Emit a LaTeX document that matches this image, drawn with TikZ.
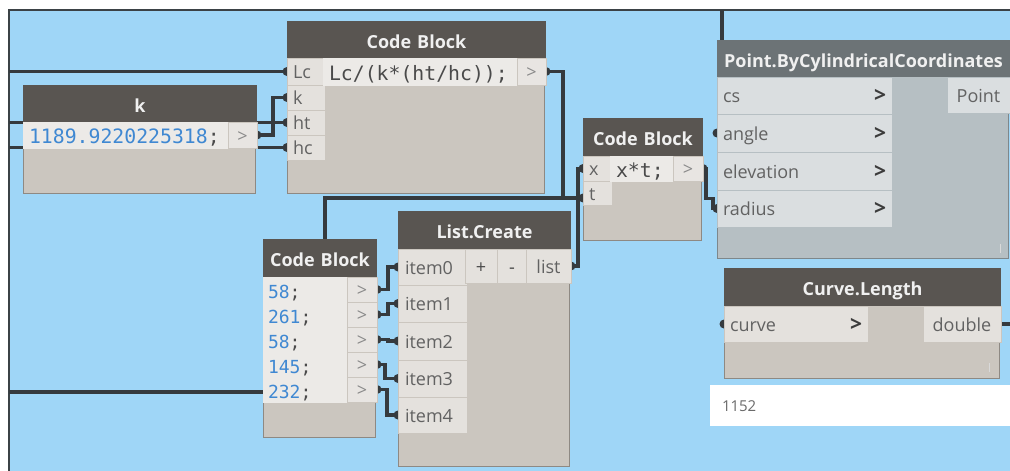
\documentclass[tikz,border=0pt]{standalone}
\usepackage{fontspec}
\setmainfont{Open Sans}
\setmonofont{DejaVu Sans Mono}
\usetikzlibrary{calc}
\pgfdeclarelayer{canvaslayer}
\pgfdeclarelayer{wirelayer}
\pgfsetlayers{canvaslayer,wirelayer,main}
\definecolor{canvas}{HTML}{9FD6F7}
\definecolor{rim}{HTML}{3B4246}
\definecolor{hdr}{HTML}{595551}
\definecolor{hdrtext}{HTML}{F0F0F0}
\definecolor{body}{HTML}{CBC6BF}
\definecolor{framec}{HTML}{8E8983}
\definecolor{cellc}{HTML}{E4E1DD}
\definecolor{codec}{HTML}{ECEAE7}
\definecolor{outc}{HTML}{E8E5E2}
\definecolor{lbl}{HTML}{626262}
\definecolor{codetext}{HTML}{4A4A4A}
\definecolor{outtext}{HTML}{8A8A8A}
\definecolor{numblue}{HTML}{3F88D2}
\definecolor{wire}{HTML}{353A3E}
\definecolor{phdr}{HTML}{6C7376}
\definecolor{pbody}{HTML}{B6BFC3}
\definecolor{pframe}{HTML}{7E878B}
\definecolor{pcell}{HTML}{DADEE0}
\definecolor{chev}{HTML}{3C3C3C}
\definecolor{watchtext}{HTML}{6A6A6A}
\newcommand\hdrfont{\fontsize{18}{22}\selectfont\bfseries}
\newcommand\lblfont{\fontsize{18}{22}\selectfont}
\newcommand\codefont{\fontsize{19.8}{23}\selectfont\ttfamily}
\newcommand\numfont{\fontsize{18}{22}\selectfont\ttfamily}
\newcommand\pushright{\hskip 0pt plus 1filll\relax}
\newcommand\chevron{\textcolor{chev}{\fontsize{21}{22}\selectfont\textbf{>}}}
\newcommand\dcell[7][]{%
  \pgfmathsetmacro\dcw{#5-10}%
  \node[cellst,#1,minimum width=#5pt,minimum height=#6pt,text width=\dcw pt] (#2) at (#3,#4) {#7};}
\newcommand\dframe[6][]{%
  \node[framest,#1,minimum width=#5pt,minimum height=#6pt] (#2) at (#3,#4) {};}
\begin{document}
\begin{tikzpicture}[x=1pt,y=-1pt,
  framest/.style={draw=framec, line width=0.8pt, fill=body, inner sep=0pt, outer sep=0pt, anchor=north west},
  pframest/.style={framest, draw=pframe, fill=pbody},
  cellst/.style={fill=cellc, draw=body, line width=0.8pt, text=lbl, font=\lblfont, align=left,
    inner xsep=6pt, inner ysep=0pt, outer sep=0pt, anchor=north west, text height=14.5pt, text depth=0pt},
  hdrst/.style={fill=hdr, draw=none, text=hdrtext, font=\hdrfont, align=center, text height=18pt, text depth=1pt},
  phdrst/.style={hdrst, fill=phdr},
  codest/.style={fill=codec, draw=codec, text=codetext, font=\codefont, text height=17.5pt},
  numst/.style={fill=codec, draw=codec, text=codetext, font=\numfont, text height=17pt},
  outst/.style={fill=outc, text=outtext, align=center},
  pcellst/.style={fill=pcell, draw=pbody},
  wirest/.style={draw=wire, line width=3.4pt},
  gripst/.style={draw=white!85!black, line width=1pt},
  watchst/.style={fill=white, draw=none, inner xsep=12pt, inner ysep=0pt, outer sep=0pt, anchor=north west,
    text=watchtext, font=\fontsize{15}{17}\selectfont, align=left, text height=11pt, text depth=0pt}
]
\useasboundingbox (0,0) rectangle (1010,471);
\begin{pgfonlayer}{canvaslayer}
  \fill[canvas] (9,10) rectangle (1010,471);
  \draw[rim, line width=1.6pt] (1010,10) -- (9,10) -- (9,471);
\end{pgfonlayer}

% ---- node k
\dframe{kbox}{23}{85}{232}{108}
\dcell[hdrst]{khdr}{23}{85}{232}{37}{k}
\dcell[codest]{kval}{23}{122}{205}{26}{\textcolor{numblue}{1189.9220225318};}
\dcell[outst]{kout}{228}{122}{27}{26}{>}

% ---- Code Block 1
\dframe{cbone}{287}{21}{257}{172}
\dcell[hdrst]{cbonehdr}{287}{21}{257}{37}{Code Block}
\dcell{inLc}{287}{58}{36}{27}{Lc}
\dcell{ink}{287}{85}{36}{25}{k}
\dcell{inht}{287}{110}{36}{25}{ht}
\dcell{inhc}{287}{135}{36}{25}{hc}
\dcell[codest]{cbonecode}{323}{58}{194}{27}{Lc/(k*(ht/hc));}
\dcell[outst]{cboneout}{517}{58}{27}{27}{>}

% ---- Code Block x*t
\dframe{cbx}{583}{118}{118}{122}
\dcell[hdrst]{cbxhdr}{583}{118}{118}{38}{Code Block}
\dcell{inx}{583}{156}{27}{25}{x}
\dcell{int}{583}{181}{27}{24}{t}
\dcell[codest]{cbxcode}{610}{156}{63}{25}{x*t;}
\dcell[outst]{cbxout}{673}{156}{28}{25}{>}

% ---- Point.ByCylindricalCoordinates
\dframe[pframest]{pbox}{717}{40}{291}{218}
\dcell[phdrst]{phdr}{717}{40}{291}{37}{Point.ByCylindricalCoordinates}
\dcell[pcellst]{incs}{717}{77}{173}{37}{cs\pushright\chevron}
\dcell[pcellst]{inangle}{717}{114}{173}{38}{angle\pushright\chevron}
\dcell[pcellst]{inelev}{717}{152}{173}{38}{elevation\pushright\chevron}
\dcell[pcellst]{inradius}{717}{190}{173}{37}{radius\pushright\chevron}
\dcell[pcellst,align=center]{pout}{947}{77}{61}{36}{Point}

% ---- Code Block 2 (numbers)
\dframe{cbtwo}{263}{239}{112}{198}
\dcell[hdrst]{cbtwohdr}{263}{239}{112}{38}{Code Block}
\dcell[numst,inner xsep=5pt]{nA}{263}{277}{84}{25}{\textcolor{numblue}{58};}
\dcell[numst,inner xsep=5pt]{nB}{263}{302}{84}{25}{\textcolor{numblue}{261};}
\dcell[numst,inner xsep=5pt]{nC}{263}{327}{84}{25}{\textcolor{numblue}{58};}
\dcell[numst,inner xsep=5pt]{nD}{263}{352}{84}{25}{\textcolor{numblue}{145};}
\dcell[numst,inner xsep=5pt]{nE}{263}{377}{84}{25}{\textcolor{numblue}{232};}
\dcell[outst]{oA}{347}{277}{28}{25}{>}
\dcell[outst]{oB}{347}{302}{28}{25}{>}
\dcell[outst]{oC}{347}{327}{28}{25}{>}
\dcell[outst]{oD}{347}{352}{28}{25}{>}
\dcell[outst]{oE}{347}{377}{28}{25}{>}

% ---- List.Create
\dframe{lbox}{398}{211}{171}{255}
\dcell[hdrst]{lhdr}{398}{211}{171}{38}{List.Create}
\dcell[inner xsep=7pt]{itemA}{398}{249}{65}{36}{item0}
\dcell[inner xsep=7pt]{itemB}{398}{285}{65}{37}{item1}
\dcell[inner xsep=7pt]{itemC}{398}{322}{65}{38}{item2}
\dcell[inner xsep=7pt]{itemD}{398}{360}{65}{37}{item3}
\dcell[inner xsep=7pt]{itemE}{398}{397}{65}{36}{item4}
\dcell[align=center,text=codetext]{plus}{465}{249}{30}{34}{+}
\dcell[align=center,text=codetext]{minus}{497}{249}{28}{34}{-}
\dcell[align=center]{lout}{526}{249}{43}{34}{list}

% ---- Curve.Length
\dframe{cbox}{724}{268}{275}{110}
\dcell[hdrst]{chdr}{724}{268}{275}{38}{Curve.Length}
\dcell{incurve}{724}{306}{142}{36}{curve\pushright\chevron}
\dcell[align=center]{cout}{923}{306}{76}{36}{double}

% ---- watch
\node[watchst, minimum width=300pt, minimum height=41pt, text width=276pt] (watch) at (710,385) {1152};

% grips
\draw[gripst] ($(pbox.south east)+(-8,-5)$) -- ++(0,-9);
\draw[gripst] ($(cbox.south east)+(-10,-6)$) -- ++(0,-9);

% ---- wires
\coordinate (Lone) at (9,71.5);
\coordinate (Ltwo) at (9,122.5);
\coordinate (Lthree) at (9,147.5);
\coordinate (Lfour) at (9,392);
\coordinate (Jone) at (563,198);
\coordinate (Jtwo) at (325,392);
\coordinate (Tone) at (722,10);
\coordinate (Rone) at (1010,324);
\coordinate (Rtwo) at (1010,95);
\begin{pgfonlayer}{wirelayer}
  \draw[wirest] (Lone) -- (inLc.west);
  \draw[wirest] (Ltwo) -- (inht.west);
  \draw[wirest] (Lthree) -- (inhc.west);
  \draw[wirest] (kout.east) -- ++(16,0) |- (ink.west);
  \draw[wirest] (cboneout.east) -| (Jone) -- (int.west |- Jone);
  \draw[wirest] (Lfour) -- (Jtwo) |- (Jone);
  \draw[wirest] (lout.east) -- ++(7,0) |- (inx.west);
  \draw[wirest] (cbxout.east) -- ++(3,0) -- ++(0,30) -- ++(7,0) |- (inradius.west);
  \draw[wirest] (Tone) -- (Tone |- pbox.north);
  \draw[wirest] (cout.east) -- (Rone);
  \draw[wirest] (pout.east) -- (Rtwo);
  \draw[wirest] (oA.east) -- ++(11,0) |- (itemA.west);
  \draw[wirest] (oB.east) -- ++(11,0) |- (itemB.west);
  \draw[wirest] (oC.east) -- ++(11,0) |- (itemC.west);
  \draw[wirest] (oD.east) -- ++(8,0) |- (itemD.west);
  \draw[wirest] (oE.east) -- ++(10,0) |- (itemE.west);
  \fill[wire] (int.west |- Jone) circle (4.5pt);
  \foreach \p in {inLc.west,ink.west,inht.west,inhc.west,kout.east,cboneout.east,
                  inx.west,cbxout.east,inangle.west,inradius.west,
                  oA.east,oB.east,oC.east,oD.east,oE.east,
                  itemA.west,itemB.west,itemC.west,itemD.west,itemE.west,lout.east,
                  incurve.west}
    \fill[wire] (\p) circle (4.5pt);
\end{pgfonlayer}
\end{tikzpicture}
\end{document}
